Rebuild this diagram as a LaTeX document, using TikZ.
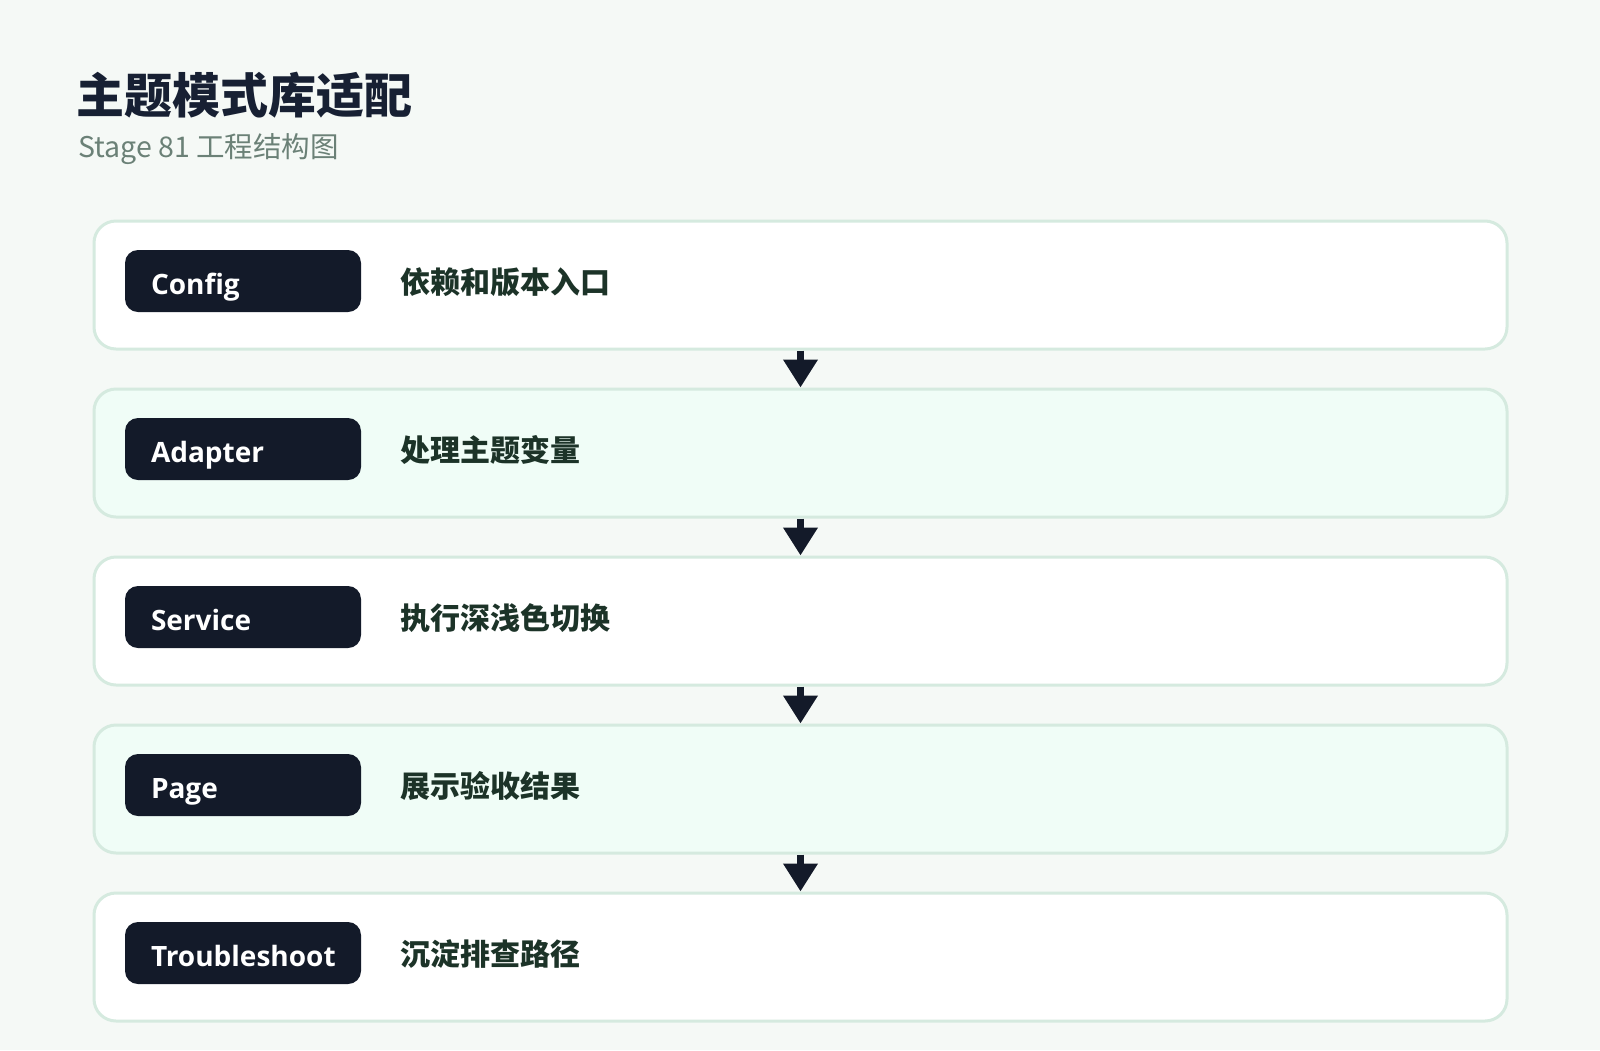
\documentclass[tikz,border=0pt]{standalone}
\usepackage{fontspec}
\setmainfont{Noto Sans CJK SC}
\newfontfamily\badgefont{Open Sans Bold}
\newfontfamily\headfont{Noto Sans CJK SC Black}
\usetikzlibrary{arrows.meta}

\definecolor{pagebg}{HTML}{F5F9F6}
\definecolor{rimgreen}{HTML}{D5EADF}
\definecolor{mintfill}{HTML}{F0FDF7}
\definecolor{inkdark}{HTML}{131A29}
\definecolor{titleink}{HTML}{172033}
\definecolor{subink}{HTML}{6B8177}
\definecolor{descink}{HTML}{1C3328}

\begin{document}
\begin{tikzpicture}[x=1pt,y=-1pt]
				\tikzstyle{stagebox}=[rectangle,draw=rimgreen,line width=3pt,rounded corners=22pt,minimum width=1413pt,minimum height=128pt,inner sep=0pt]
				\tikzstyle{badge}=[rectangle,fill=inkdark,rounded corners=13pt,text=white,font=\badgefont\fontsize{28}{30}\selectfont,text width=184pt,align=left,inner xsep=26pt,inner ysep=0pt,minimum height=62pt,text height=30pt,text depth=4pt]
				\tikzstyle{desc}=[anchor=base west,inner sep=0pt,text=descink,font=\bfseries\fontsize{30}{34}\selectfont]
				\tikzstyle{flow}=[draw=inkdark,line width=7pt,-{Triangle[width=33pt,length=28pt]}]
				
				\fill[pagebg] (0,0) rectangle (1600,1050);
				\node[anchor=base west,inner sep=0pt,text=titleink,font=\headfont\fontsize{48}{54}\selectfont] (title) at (76,113) {主题模式库适配};
				\node[anchor=base west,inner sep=0pt,text=subink,font=\fontsize{28.5}{32}\selectfont] (subtitle) at (78,157) {Stage 81 工程结构图};
				
				\node[stagebox,fill=white] (config) at (800.5,285) {};
				\node[stagebox,fill=mintfill] (adapter) at (800.5,453) {};
				\node[stagebox,fill=white] (service) at (800.5,621) {};
				\node[stagebox,fill=mintfill] (page) at (800.5,789) {};
				\node[stagebox,fill=white] (trouble) at (800.5,957) {};
				
				\node[badge] (configtag) at (243,281) {Config};
				\node[badge] (adaptertag) at (243,449) {Adapter};
				\node[badge] (servicetag) at (243,617) {Service};
				\node[badge] (pagetag) at (243,785) {Page};
				\node[badge] (troubletag) at (243,953) {Troubleshoot};
				
				\node[desc] (configtext) at (400,293) {依赖和版本入口};
				\node[desc] (adaptertext) at (400,461) {处理主题变量};
				\node[desc] (servicetext) at (400,629) {执行深浅色切换};
				\node[desc] (pagetext) at (400,797) {展示验收结果};
				\node[desc] (troubletext) at (400,965) {沉淀排查路径};
				
				\draw[flow] (config.south) -- (adapter.north);
				\draw[flow] (adapter.south) -- (service.north);
				\draw[flow] (service.south) -- (page.north);
				\draw[flow] (page.south) -- (trouble.north);
				
\end{tikzpicture}
\end{document}
